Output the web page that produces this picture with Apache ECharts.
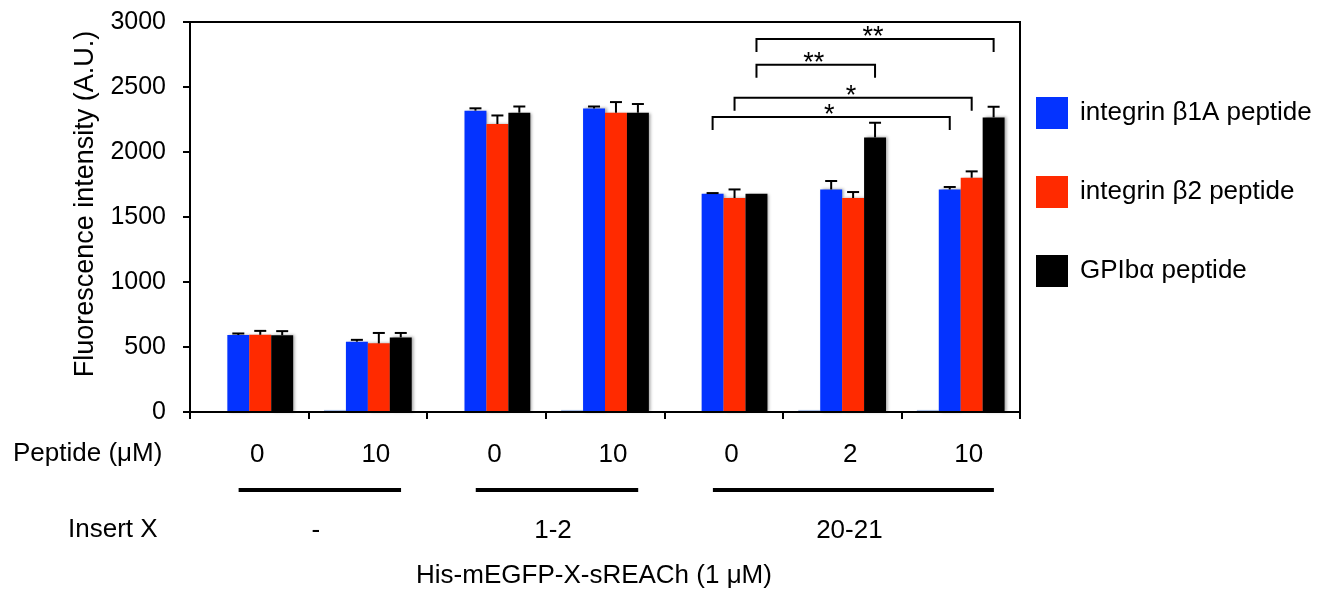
<!DOCTYPE html>
<html><head><meta charset="utf-8">
<script src="https://cdn.jsdelivr.net/npm/echarts@6/dist/echarts.min.js"></script>
<style>html,body{margin:0;padding:0;background:#fff}#c{width:1321px;height:589px}</style>
</head><body><div id="c"></div>
<script>
// ---- data ----
const categories = ['0', '10', '0', '10', '0', '2', '10'];
const seriesNames = ['integrin β1A peptide', 'integrin β2 peptide', 'GPIbα peptide'];
const baselineValues = [0, 16, 0, 16, 0, 16, 16];
const beta1AValues = [592, 541, 2318, 2335, 1679, 1712, 1712];
const beta1AErrors = [12, 14, 18, 15, 5, 65, 19];
const beta2Values = [594, 528, 2215, 2302, 1646, 1646, 1802];
const beta2Errors = [30, 80, 66, 82, 66, 46, 49];
const gpibValues = [590, 574, 2302, 2302, 1679, 2112, 2266];
const gpibErrors = [32, 34, 48, 67, 0, 113, 82];
const groupLabels = ['-', '1-2', '20-21'];
const groupStart = [0, 2, 4];
const groupEnd = [1, 3, 6];
const sigLabels = ['*', '*', '**', '**'];
const sigFromCat = [4, 4, 4, 4];
const sigFromBar = [1, 2, 3, 3];
const sigToCat = [6, 6, 5, 6];
const sigToBar = [1, 2, 3, 3];
const sigLevel = [2270, 2418, 2672, 2869];
const yMin = 0, yMax = 3000, yInterval = 500;

// ---- layout/style ----
const FONT = "'Liberation Sans', Arial, sans-serif";
const GAP = 0.26, NBARS = 4;
const colors = ['#0433FF', '#FF2A00', '#000000'];

function barCenterX(api, cat, bar) {
  const c = api.coord([cat, 0]);
  const band = api.size([1, 0])[0];
  const bw = band * (1 - GAP) / NBARS;
  return c[0] - band * (1 - GAP) / 2 + (bar + 0.5) * bw;
}

const errData = [];
[[beta1AValues, beta1AErrors], [beta2Values, beta2Errors], [gpibValues, gpibErrors]].forEach((p, s) => {
  p[0].forEach((v, i) => errData.push([i, v, p[1][i], s + 1]));
});
const sigData = sigLabels.map((l, i) => [sigFromCat[i], sigFromBar[i], sigToCat[i], sigToBar[i], sigLevel[i], i]);
const groupData = groupLabels.map((l, i) => [groupStart[i], groupEnd[i], i]);

const shadow = { shadowBlur: 3, shadowColor: 'rgba(0,0,0,0.35)', shadowOffsetX: 2 };

const chart = echarts.init(document.getElementById('c'));
chart.setOption({
  animation: false,
  backgroundColor: '#fff',
  textStyle: { fontFamily: FONT },
  grid: { left: 190, right: 301, top: 22, bottom: 177, show: true, borderColor: '#000', borderWidth: 2,
          containLabel: false, outerBoundsMode: 'none' },
  legend: {
    data: seriesNames, orient: 'vertical', left: 1036, top: 97, padding: 0,
    itemWidth: 32, itemHeight: 32, itemGap: 47, icon: 'rect',
    itemStyle: { shadowBlur: 0, shadowOffsetX: 0 },
    textStyle: { fontSize: 26, color: '#000', fontFamily: FONT, padding: [0, 0, 0, 7] }
  },
  xAxis: {
    type: 'category', data: categories, z: 4,
    axisLine: { lineStyle: { color: '#000', width: 2 } },
    axisTick: { show: true, length: 7, interval: 0, lineStyle: { color: '#000', width: 2 } },
    axisLabel: { fontSize: 26, color: '#000', margin: 30, padding: [0, 0, 0, 16], fontFamily: FONT },
    name: 'His-mEGFP-X-sREACh (1 μM)', nameLocation: 'middle', nameGap: 151,
    nameTextStyle: { fontSize: 26, color: '#000', fontFamily: FONT, padding: [0, 22, 0, 0] }
  },
  yAxis: {
    type: 'value', min: yMin, max: yMax, interval: yInterval, z: 4,
    axisLine: { show: true, lineStyle: { color: '#000', width: 2 } },
    axisTick: { show: true, length: 7, lineStyle: { color: '#000', width: 2 } },
    axisLabel: { fontSize: 25, color: '#000', margin: 24, fontFamily: FONT, formatter: v => String(v) },
    splitLine: { show: false },
    name: 'Fluorescence intensity (A.U.)', nameLocation: 'middle', nameGap: 90,
    nameTextStyle: { fontSize: 27, color: '#000', fontFamily: FONT, padding: [0, 0, 0, 26] }
  },
  graphic: [
    { type: 'text', left: 13, top: 441, style: { text: 'Peptide (μM)', font: '26px ' + FONT, fill: '#000' } },
    { type: 'text', left: 68, top: 517, style: { text: 'Insert X', font: '26px ' + FONT, fill: '#000' } }
  ],
  series: [
    { name: 'baseline', type: 'bar', data: baselineValues, barGap: '0%', barCategoryGap: (GAP * 100) + '%',
      itemStyle: { color: '#a9bfe6' }, silent: true },
    { name: seriesNames[0], type: 'bar', data: beta1AValues, barGap: '0%', barCategoryGap: (GAP * 100) + '%',
      itemStyle: Object.assign({ color: colors[0] }, shadow) },
    { name: seriesNames[1], type: 'bar', data: beta2Values, barGap: '0%', barCategoryGap: (GAP * 100) + '%',
      itemStyle: Object.assign({ color: colors[1] }, shadow) },
    { name: seriesNames[2], type: 'bar', data: gpibValues, barGap: '0%', barCategoryGap: (GAP * 100) + '%',
      itemStyle: Object.assign({ color: colors[2] }, shadow) },
    { name: 'errors', type: 'custom', data: errData, z: 5, silent: true,
      renderItem(params, api) {
        const cat = api.value(0), v = api.value(1), e = api.value(2), b = api.value(3);
        if (!e) return null;
        const x = barCenterX(api, cat, b);
        const y0 = api.coord([cat, v])[1], y1 = api.coord([cat, v + e])[1];
        return { type: 'group', children: [
          { type: 'line', shape: { x1: x, y1: y0, x2: x, y2: y1 }, style: { stroke: '#000', lineWidth: 2 } },
          { type: 'line', shape: { x1: x - 6, y1: y1, x2: x + 6, y2: y1 }, style: { stroke: '#000', lineWidth: 2 } }
        ] };
      } },
    { name: 'significance', type: 'custom', data: sigData, z: 6, silent: true, clip: false,
      renderItem(params, api) {
        const x1 = barCenterX(api, api.value(0), api.value(1));
        const x2 = barCenterX(api, api.value(2), api.value(3));
        const lvl = api.value(4);
        const y = api.coord([0, lvl])[1];
        const yb = api.coord([0, lvl - 100])[1];
        return { type: 'group', children: [
          { type: 'polyline', shape: { points: [[x1, yb], [x1, y], [x2, y], [x2, yb]] },
            style: { stroke: '#000', lineWidth: 2, fill: null } },
          { type: 'text', x: (x1 + x2) / 2 - 2, y: y - 1,
            style: { text: sigLabels[api.value(5)], font: '27px ' + FONT, fill: '#000', align: 'center', verticalAlign: 'middle' } }
        ] };
      } },
    { name: 'groups', type: 'custom', data: groupData, z: 6, silent: true, clip: false,
      renderItem(params, api) {
        const band = api.size([1, 0])[0];
        const x1 = api.coord([api.value(0), 0])[0] - 0.09 * band;
        const x2 = api.coord([api.value(1), 0])[0] + 0.28 * band;
        const y = api.coord([0, 0])[1] + 78;
        return { type: 'group', children: [
          { type: 'line', shape: { x1: x1, y1: y, x2: x2, y2: y }, style: { stroke: '#000', lineWidth: 4 } },
          { type: 'text', x: (x1 + x2) / 2 - 4, y: y + 41,
            style: { text: groupLabels[api.value(2)], font: '26px ' + FONT, fill: '#000', align: 'center', verticalAlign: 'middle' } }
        ] };
      } }
  ]
});
</script></body></html>
